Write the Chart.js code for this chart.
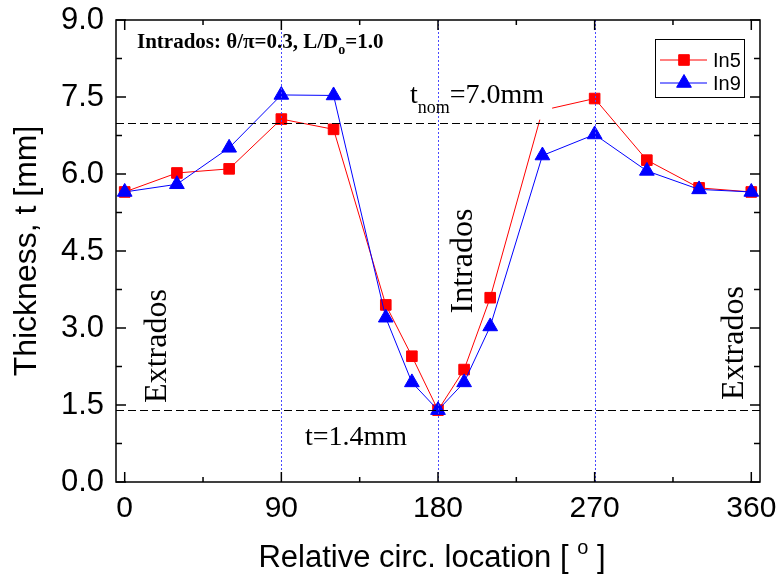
<!DOCTYPE html>
<html>
<head>
<meta charset="utf-8">
<title>Wall thickness around the bend</title>
<script src="https://cdn.jsdelivr.net/npm/chart.js@4.4.1/dist/chart.umd.min.js"></script>
<style>
  html, body { margin: 0; padding: 0; background: #fff; }
  #chart { display: block; }
</style>
</head>
<body>
<canvas id="chart" width="782" height="579"></canvas>
<script>
const angles = [0, 30, 60, 90, 120, 150, 165, 180, 195, 210, 240, 270, 300, 330, 360];
const in5_thickness = [5.65, 6.02, 6.10, 7.07, 6.87, 3.45, 2.45, 1.40, 2.19, 3.59, 7.24, 7.47, 6.27, 5.73, 5.65];
const in9_thickness = [5.65, 5.80, 6.51, 7.54, 7.53, 3.20, 1.94, 1.40, 1.94, 3.03, 6.36, 6.77, 6.06, 5.70, 5.65];

const x_tick_values = [0, 90, 180, 270, 360];
const x_minor_values = [45, 135, 225, 315];
const y_tick_values = [0, 1.5, 3.0, 4.5, 6.0, 7.5, 9.0];
const y_minor_values = [0.75, 2.25, 3.75, 5.25, 6.75, 8.25];

const t_nominal = 7.0;
const t_minimum = 1.4;
const section_angles = [90, 180, 270];

const SANS = '"Liberation Sans", Arial, sans-serif';
const SERIF = '"Liberation Serif", "Times New Roman", serif';
const RED = "#ff0000";
const BLUE = "#0000ff";

function toPoints(values) {
  return angles.map((a, i) => ({ x: a, y: values[i] }));
}

// writes text pieces left to right, each with its own font and vertical shift
function drawRuns(ctx, x, y, runs, measureOnly) {
  for (const run of runs) {
    ctx.font = run.font;
    if (!measureOnly) ctx.fillText(run.text, x, y + (run.dy || 0));
    x += ctx.measureText(run.text).width;
  }
  return x;
}

function drawRotated(ctx, text, x, y, font) {
  ctx.save();
  ctx.translate(x, y);
  ctx.rotate(-Math.PI / 2);
  ctx.font = font;
  ctx.textAlign = "center";
  ctx.textBaseline = "alphabetic";
  ctx.fillText(text, 0, 0);
  ctx.restore();
}

function line(ctx, x1, y1, x2, y2) {
  ctx.beginPath();
  ctx.moveTo(x1, y1);
  ctx.lineTo(x2, y2);
  ctx.stroke();
}

const overlayPlugin = {
  id: "overlay",
  afterDatasetsDraw(chart) {
    const { ctx, chartArea: area, scales: { x, y } } = chart;
    ctx.save();
    ctx.fillStyle = "#000";
    ctx.textAlign = "left";
    ctx.textBaseline = "alphabetic";

    // nominal thickness label sits on a white patch
    const nomRuns = [
      { text: "t", font: "28px " + SERIF },
      { text: "nom", font: "18px " + SERIF, dy: 10 },
      { text: "=7.0mm", font: "28px " + SERIF },
    ];
    const nomX = 410, nomY = 103;
    const nomEnd = drawRuns(ctx, nomX, nomY, nomRuns, true);
    ctx.fillStyle = "#fff";
    ctx.fillRect(nomX - 4, nomY - 28, nomEnd - nomX + 12, y.getPixelForValue(t_nominal) - 3 - (nomY - 28));
    ctx.fillStyle = "#000";

    // section markers at 90, 180 and 270 degrees
    ctx.strokeStyle = "#4848ff";
    ctx.lineWidth = 1;
    ctx.setLineDash([2, 2]);
    for (const a of section_angles) {
      const px = Math.round(x.getPixelForValue(a)) + 0.5;
      line(ctx, px, area.top, px, area.bottom);
    }

    // nominal and minimum wall thickness
    ctx.strokeStyle = "#000";
    ctx.lineWidth = 1.2;
    ctx.setLineDash([8, 4]);
    for (const t of [t_nominal, t_minimum]) {
      const py = Math.round(y.getPixelForValue(t)) + 0.5;
      line(ctx, area.left, py, area.right, py);
    }
    ctx.setLineDash([]);

    drawRuns(ctx, nomX, nomY, nomRuns);
    drawRuns(ctx, 305, 445, [{ text: "t=1.4mm", font: "28px " + SERIF }]);
    drawRuns(ctx, 137, 48, [
      { text: "Intrados: \u03b8/\u03c0=0.3, L/D", font: "bold 21px " + SERIF },
      { text: "o", font: "bold 14px " + SERIF, dy: 6 },
      { text: "=1.0", font: "bold 21px " + SERIF },
    ]);

    drawRotated(ctx, "Extrados", 166, 346, "32px " + SERIF);
    drawRotated(ctx, "Intrados", 472, 261, "32px " + SERIF);
    drawRotated(ctx, "Extrados", 743, 343, "32px " + SERIF);

    // frame with inward ticks on all four sides
    ctx.strokeStyle = "#000";
    ctx.lineWidth = 1.5;
    ctx.strokeRect(area.left, area.top, area.width, area.height);
    const xt = (vals, len) => {
      for (const v of vals) {
        const px = x.getPixelForValue(v);
        line(ctx, px, area.bottom, px, area.bottom - len);
        line(ctx, px, area.top, px, area.top + len);
      }
    };
    const yt = (vals, len) => {
      for (const v of vals) {
        const py = y.getPixelForValue(v);
        line(ctx, area.left, py, area.left + len, py);
        line(ctx, area.right, py, area.right - len, py);
      }
    };
    xt(x_tick_values, 10);
    xt(x_minor_values, 5);
    yt(y_tick_values, 10);
    yt(y_minor_values, 6);

    // legend box
    const lx = area.right - 105, ly = area.top + 19;
    ctx.lineWidth = 1;
    ctx.strokeRect(lx + 0.5, ly + 0.5, 89, 58);
    const entries = [
      { label: "In5", color: RED, style: "rect", radius: 7.5 },
      { label: "In9", color: BLUE, style: "triangle", radius: 8.5 },
    ];
    entries.forEach((e, i) => {
      const ey = ly + 21 + i * 23;
      ctx.strokeStyle = e.color;
      ctx.fillStyle = e.color;
      ctx.lineWidth = 1;
      line(ctx, lx + 5, ey, lx + 52, ey);
      Chart.helpers.drawPoint(ctx, { pointStyle: e.style, radius: e.radius, rotation: 0, borderWidth: 1 }, lx + 29, ey);
      ctx.fillStyle = "#000";
      ctx.font = "20px " + SANS;
      ctx.fillText(e.label, lx + 58, ey + 7);
    });

    // x axis title with superscript degree mark
    ctx.fillStyle = "#000";
    const xtRuns = [
      { text: "Relative circ. location [ ", font: "31px " + SANS },
      { text: "o", font: "20px " + SANS, dy: -13 },
      { text: " ]", font: "31px " + SANS },
    ];
    const w = drawRuns(ctx, 0, 0, xtRuns, true);
    drawRuns(ctx, (area.left + area.right) / 2 - w / 2 - 6, 567, xtRuns);

    ctx.restore();
  },
};

const config = {
  type: "line",
  data: {
    datasets: [
      {
        label: "In5",
        data: toPoints(in5_thickness),
        borderColor: RED,
        backgroundColor: RED,
        borderWidth: 1,
        pointStyle: "rect",
        pointRadius: 7.5,
        pointBorderWidth: 1,
        tension: 0,
        order: 1,
      },
      {
        label: "In9",
        data: toPoints(in9_thickness),
        borderColor: BLUE,
        backgroundColor: BLUE,
        borderWidth: 1,
        pointStyle: "triangle",
        pointRadius: 8.5,
        pointBorderWidth: 1,
        tension: 0,
        order: 0,
      },
    ],
  },
  options: {
    responsive: false,
    animation: false,
    devicePixelRatio: 1,
    layout: { padding: { top: 20, right: 22, left: 0, bottom: 0 } },
    plugins: {
      legend: { display: false },
      tooltip: { enabled: false },
    },
    scales: {
      x: {
        type: "linear",
        min: -5,
        max: 365,
        afterBuildTicks: (s) => { s.ticks = x_tick_values.map((v) => ({ value: v })); },
        afterFit: (s) => {
          s.height = 97;
          s.paddingLeft = 0;
          s.paddingRight = 0;
        },
        grid: { display: false, drawTicks: false },
        border: { display: false },
        ticks: {
          color: "#000",
          font: { family: SANS, size: 30 },
          padding: 9,
          maxRotation: 0,
          autoSkip: false,
        },
      },
      y: {
        type: "linear",
        min: 0,
        max: 9,
        afterBuildTicks: (s) => { s.ticks = y_tick_values.map((v) => ({ value: v })); },
        afterFit: (s) => {
          s.width = 116;
          s.paddingTop = 0;
          s.paddingBottom = 0;
        },
        grid: { display: false, drawTicks: false },
        border: { display: false },
        ticks: {
          color: "#000",
          font: { family: SANS, size: 31 },
          padding: 12,
          autoSkip: false,
          callback: (v) => Number(v).toFixed(1),
        },
        title: {
          display: true,
          text: "Thickness, t [mm]",
          color: "#000",
          font: { family: SANS, size: 32 },
          padding: { top: 8, bottom: 0 },
        },
      },
    },
  },
  plugins: [overlayPlugin],
};

new Chart(document.getElementById("chart"), config);
</script>
</body>
</html>
